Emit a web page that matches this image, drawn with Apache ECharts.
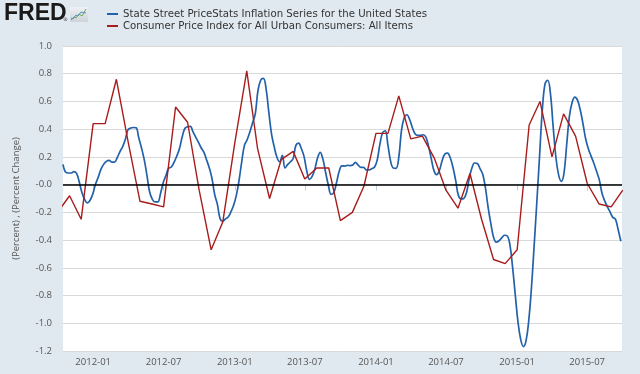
<!DOCTYPE html>
<html><head><meta charset="utf-8">
<script src="https://cdn.jsdelivr.net/npm/echarts@6/dist/echarts.min.js"></script>
<style>html,body{margin:0;padding:0;background:#e1e9f0}#c{width:640px;height:374px}</style>
</head><body><div id="c"></div>
<script>
// ---- data ----
const blueName = 'State Street PriceStats Inflation Series for the United States';
const redName = 'Consumer Price Index for All Urban Consumers: All Items';
const blueStart = '2011-10-15';
const blueStepDays = 7;
const blueValues = [
 0.146, 0.089, 0.084, 0.084, 0.094, 0.082, 0.019, -0.058, -0.106, -0.132,
 -0.113, -0.067, 0.002, 0.053, 0.11, 0.146, 0.168, 0.175, 0.163, 0.163,
 0.194, 0.237, 0.273, 0.326, 0.396, 0.408, 0.412, 0.41, 0.336, 0.264,
 0.18, 0.067, -0.053, -0.106, -0.125, -0.125, -0.065, 0.014, 0.065, 0.118,
 0.127, 0.161, 0.206, 0.259, 0.343, 0.405, 0.417, 0.42, 0.381, 0.343,
 0.307, 0.266, 0.235,
 0.18, 0.122, 0.046, -0.07, -0.141, -0.245, -0.264, -0.247, -0.233, -0.197,
 -0.149, -0.077, 0.029, 0.165, 0.283, 0.324, 0.379, 0.446, 0.511, 0.679,
 0.753, 0.767, 0.691, 0.523, 0.367, 0.273, 0.197, 0.165, 0.211, 0.12,
 0.146, 0.165, 0.189, 0.283, 0.30, 0.261, 0.204, 0.101, 0.038, 0.06,
 0.113, 0.192, 0.233, 0.182, 0.086, -0.005, -0.07, -0.058, 0.014, 0.096,
 0.136,
 0.134, 0.139, 0.137, 0.141, 0.161, 0.141, 0.125, 0.125, 0.106, 0.106,
 0.115, 0.125, 0.175, 0.288, 0.374, 0.388, 0.283, 0.168, 0.12, 0.118,
 0.197, 0.391, 0.482, 0.504, 0.47, 0.412, 0.367, 0.355, 0.355, 0.36,
 0.343, 0.276, 0.187, 0.101, 0.072, 0.103, 0.173, 0.221, 0.228, 0.194,
 0.125, 0.031, -0.077, -0.103, -0.10, -0.058, 0.043, 0.12, 0.156, 0.153,
 0.115, 0.075,
 -0.024, -0.165, -0.281, -0.379, -0.415, -0.405, -0.384, -0.365, -0.369, -0.429,
 -0.592, -0.791, -0.988, -1.115, -1.168, -1.125, -0.978, -0.741, -0.436, -0.118,
 0.211, 0.537, 0.727, 0.753, 0.657, 0.42, 0.201, 0.072, 0.024, 0.082,
 0.288, 0.492, 0.592, 0.631, 0.609, 0.54, 0.441, 0.331, 0.259, 0.206,
 0.156, 0.098, 0.038, -0.058, -0.115, -0.158, -0.197, -0.235, -0.249, -0.324,
 -0.408
];
const cpiMonths = [
 '2011-10','2011-11','2011-12',
 '2012-01','2012-02','2012-03','2012-04','2012-05','2012-06','2012-07','2012-08','2012-09','2012-10','2012-11','2012-12',
 '2013-01','2013-02','2013-03','2013-04','2013-05','2013-06','2013-07','2013-08','2013-09','2013-10','2013-11','2013-12',
 '2014-01','2014-02','2014-03','2014-04','2014-05','2014-06','2014-07','2014-08','2014-09','2014-10','2014-11','2014-12',
 '2015-01','2015-02','2015-03','2015-04','2015-05','2015-06','2015-07','2015-08','2015-09','2015-10'
];
const cpiValues = [
 -0.20, -0.08, -0.25,
 0.44, 0.44, 0.76, 0.30, -0.12, -0.14, -0.16, 0.56, 0.45, -0.04, -0.47, -0.27,
 0.30, 0.82, 0.26, -0.10, 0.18, 0.24, 0.04, 0.12, 0.12, -0.26, -0.20, -0.01,
 0.37, 0.37, 0.64, 0.33, 0.35, 0.19, -0.04, -0.17, 0.08, -0.25, -0.54, -0.57,
 -0.47, 0.43, 0.60, 0.20, 0.51, 0.35, 0.01, -0.14, -0.16, -0.04
];
const xTickLabels = ['2012-01','2012-07','2013-01','2013-07','2014-01','2014-07','2015-01','2015-07'];
const xMin = '2011-10-15';
const xMax = '2015-09-29';
const yMin = -1.2, yMax = 1.0, yStep = 0.2;

// ---- helpers ----
function utc(s){ const p = s.split('-').map(Number); return Date.UTC(p[0], p[1]-1, p[2] || 1); }
const DAY = 86400000;
const b0 = utc(blueStart);
const blueData = blueValues.map((v,i) => [b0 + i*blueStepDays*DAY, v]);
const redData = cpiMonths.map((m,i) => [utc(m), cpiValues[i]]);
const tickVals = xTickLabels.map(utc);
function fmtDate(v){ const d = new Date(v); const m = d.getUTCMonth()+1; return d.getUTCFullYear() + '-' + (m<10?'0':'') + m; }

const axisFont = 'Open Sans';
const chart = echarts.init(document.getElementById('c'), null, {renderer:'canvas'});
chart.setOption({
  animation: false,
  backgroundColor: '#e1e9f0',
  grid: { left: 63, right: 18, top: 46, bottom: 23, show: true, backgroundColor: '#ffffff', borderWidth: 0 },
  legend: {
    orient: 'vertical', left: 107, top: 8, padding: 0, itemGap: 0,
    itemWidth: 11, itemHeight: 2, icon: 'rect',
    textStyle: { fontFamily: 'DejaVu Sans', fontSize: 10.2, color: '#333', lineHeight: 12 },
    data: [blueName, redName]
  },
  graphic: [
    { type: 'text', left: 4, top: 2, style: { text: 'FRED', font: 'bold 23px "Liberation Sans"', fill: '#1a1a1a' } },
    { type: 'text', left: 63, top: 17, style: { text: '®', font: '5px "DejaVu Sans"', fill: '#333' } },
    { type: 'rect', shape: { x: 70, y: 7, width: 18, height: 15 }, style: { fill: { type: 'linear', x: 0, y: 0, x2: 0, y2: 1, colorStops: [{offset:0,color:'#eef1f4'},{offset:1,color:'#cdd3d9'}] } } },
    { type: 'polyline', shape: { points: [[71,20],[74,17],[76,18],[79,14],[82,16],[86,9]] }, style: { stroke: '#6aa84f', lineWidth: 1, fill: null } },
    { type: 'polyline', shape: { points: [[71,18],[73,19],[76,15],[78,16],[81,12],[86,13]] }, style: { stroke: '#5b8fc7', lineWidth: 1, fill: null } }
  ],
  xAxis: {
    type: 'value', min: utc(xMin), max: utc(xMax),
    axisLine: { show: true, lineStyle: { color: '#c0d0e0', width: 1 } },
    axisTick: { show: true, customValues: tickVals, length: 6, lineStyle: { color: '#c0d0e0' } },
    axisLabel: { customValues: tickVals, formatter: v => fmtDate(v), color: '#555', fontFamily: axisFont, fontSize: 9.5, margin: 6 },
    splitLine: { show: false }
  },
  yAxis: {
    type: 'value', min: yMin, max: yMax, interval: yStep,
    name: '(Percent) , (Percent Change)', nameLocation: 'middle', nameGap: 42,
    nameTextStyle: { color: '#555', fontFamily: axisFont, fontSize: 9.5 },
    axisLine: { show: false }, axisTick: { show: false },
    axisLabel: { color: '#555', fontFamily: axisFont, fontSize: 9.5, margin: 11,
      formatter: v => Math.abs(v) < 1e-9 ? '-0.0' : v.toFixed(1) },
    splitLine: { lineStyle: { color: '#d9d9d9', width: 1 } }
  },
  series: [
    { name: blueName, type: 'line', data: blueData, color: '#2361aa', showSymbol: false, smooth: 0.4,
      lineStyle: { color: '#2361aa', width: 1.7 }, z: 3,
      markLine: { silent: true, symbol: 'none', label: { show: false }, animation: false,
        lineStyle: { color: '#000', type: 'solid', width: 1.5 }, data: [{ yAxis: 0 }] } },
    { name: redName, type: 'line', data: redData, color: '#a81c1c', showSymbol: false,
      lineStyle: { color: '#a81c1c', width: 1.4 }, z: 4 }
  ]
});
</script></body></html>
